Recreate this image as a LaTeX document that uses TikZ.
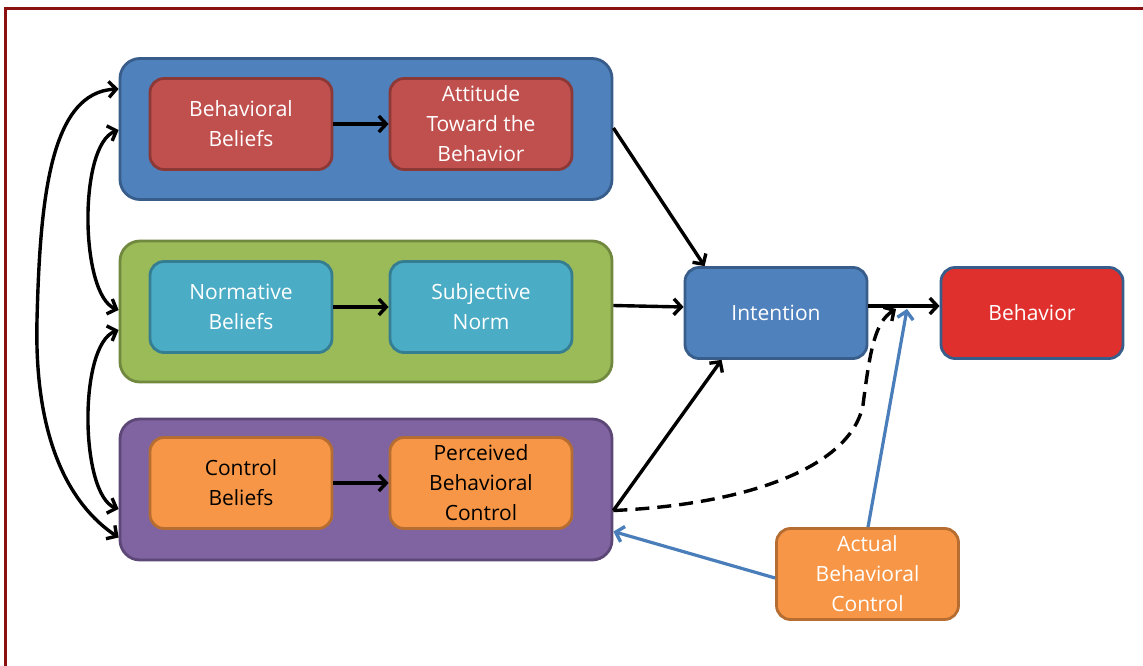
\documentclass[tikz,border=0pt]{standalone}
\usepackage{fontspec}
\setmainfont{Open Sans}
\usetikzlibrary{arrows.meta,calc}
\definecolor{frameC}{HTML}{8B1010}
\definecolor{blueF}{HTML}{4F81BD}
\definecolor{blueD}{HTML}{385D8A}
\definecolor{greenF}{HTML}{9BBB59}
\definecolor{greenD}{HTML}{71893F}
\definecolor{purpF}{HTML}{8064A2}
\definecolor{purpD}{HTML}{5C4776}
\definecolor{redF}{HTML}{C0504D}
\definecolor{redD}{HTML}{8C3836}
\definecolor{cyanF}{HTML}{4BACC6}
\definecolor{cyanD}{HTML}{357D91}
\definecolor{oranF}{HTML}{F79646}
\definecolor{oranD}{HTML}{B66D31}
\definecolor{behF}{HTML}{E0302D}
\definecolor{lineB}{HTML}{4A7EBB}
\begin{document}
\begin{tikzpicture}[x=1pt,y=-1pt,
  group/.style={draw=#1, line width=2.8pt, rounded corners=20pt, minimum width=492pt, minimum height=141pt},
  box/.style={line width=2.8pt, rounded corners=14pt, minimum width=182pt, minimum height=91pt,
     align=center, inner sep=0pt, font=\fontsize{21}{30}\selectfont},
  tip/.tip={Straight Barb[length=7.5pt,width=16pt,line width=3.4pt]},
  arr/.style={line width=3.4pt, -tip},
  barr/.style={line width=3.4pt, tip-tip},
  blarr/.style={draw=lineB, line width=3.2pt, -tip}
]
\useasboundingbox (0,0) rectangle (1143,666);
\fill[white] (0,0) rectangle (1143,666);
\draw[frameC, line width=3pt] (5.5,666) -- (5.5,8.5) -- (1143,8.5);

% groups
\node[group=blueD, fill=blueF] (gblue) at (366,129) {};
\node[group=greenD, fill=greenF] (ggreen) at (366,311.5) {};
\node[group=purpD, fill=purpF] (gpurple) at (366,489.5) {};

% inner boxes
\node[box, draw=redD, fill=redF, text=white] (bb) at (241,124) {Behavioral\\Beliefs};
\node[box, draw=redD, fill=redF, text=white] (att) at (481,124) {Attitude\\Toward the\\Behavior};
\node[box, draw=cyanD, fill=cyanF, text=white] (nb) at (241,307) {Normative\\Beliefs};
\node[box, draw=cyanD, fill=cyanF, text=white] (sn) at (481,307) {Subjective\\Norm};
\node[box, draw=oranD, fill=oranF, text=black] (cb) at (241,483) {Control\\Beliefs};
\node[box, draw=oranD, fill=oranF, text=black] (pbc) at (481,483) {Perceived\\Behavioral\\Control};

\node[box, draw=blueD, fill=blueF, text=white] (int) at (776,313) {Intention};
\node[box, draw=blueD, fill=behF, text=white] (beh) at (1032,313) {Behavior};
\node[box, draw=oranD, fill=oranF, text=white] (act) at (867.5,574) {Actual\\Behavioral\\Control};

% inner arrows
\draw[arr] (bb) -- (att);
\draw[arr] (nb) -- (sn);
\draw[arr] (cb) -- (pbc);

% to intention
\draw[arr] ([yshift=1pt]gblue.east) -- ([xshift=21pt]int.north west);
\draw[arr] ([yshift=6pt]ggreen.east) -- ([yshift=6pt]int.west);
\coordinate (pstart) at ([yshift=-21pt]gpurple.east);
\draw[arr] (pstart) -- ([xshift=38pt]int.south west);
\draw[arr] ([yshift=7pt]int.east) -- ([yshift=7pt]beh.west);

% dashed PBC -> behavior link
\coordinate (dend) at (896,309);
\draw[arr, dash pattern=on 14pt off 8pt] (pstart) .. controls (740,505) and (850,470) .. (863,405) .. controls (870,350) and (875,322) .. (dend);

% actual behavioral control
\coordinate (aend) at (907,309);
\draw[blarr] ([xshift=0.5pt]act.north) -- (aend);
\draw[blarr] ([yshift=-4pt]act.west) -- ([yshift=-42pt]gpurple.east);

% left correlations
\coordinate (o1) at ([yshift=40pt]gblue.west);
\coordinate (o2) at ([yshift=-48pt]gpurple.west);
\draw[barr] (o1) .. controls (50,92) and (40,200) .. (37,320) .. controls (34,440) and (70,505) .. (o2);
\coordinate (b1) at ([yshift=-1pt]gblue.west);
\coordinate (g1) at ([yshift=1.5pt]ggreen.west);
\draw[barr] (b1) .. controls (78,145) and (80,295) .. (g1);
\coordinate (g2) at ([yshift=-18.5pt]ggreen.west);
\coordinate (p1) at ([yshift=-19.5pt]gpurple.west);
\draw[barr] (g2) .. controls (78,345) and (80,495) .. (p1);
\end{tikzpicture}
\end{document}
